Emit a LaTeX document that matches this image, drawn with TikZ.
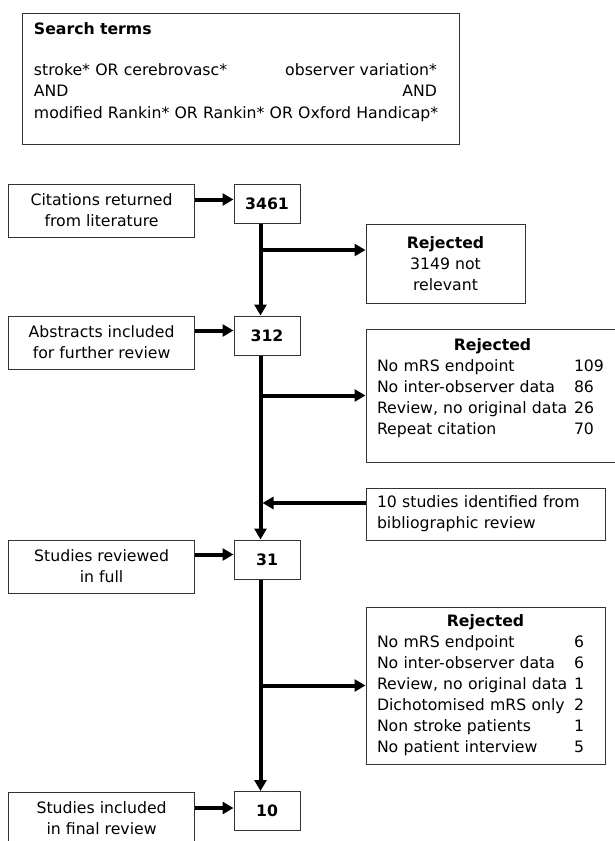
\documentclass[tikz,border=0pt]{standalone}
\usepackage{fontspec}
\setmainfont{DejaVu Sans}
\usetikzlibrary{arrows.meta}

\newcommand{\boxfont}{\fontsize{15.7}{21}\selectfont}
\newcommand{\rrow}[3][197pt]{\makebox[#1][l]{#2}#3}

\begin{document}
\begin{tikzpicture}[x=1pt,y=-1pt,font=\boxfont,
    box/.style={draw=black!80,line width=1pt,inner ysep=0pt,inner xsep=11pt,align=center},
    lbox/.style={box,minimum width=186pt,minimum height=53pt},
    nbox/.style={box,minimum width=66pt,minimum height=39pt,font=\boxfont\bfseries},
    rbox/.style={box,align=left},
    arr/.style={line width=4pt,-{Triangle[length=11pt,width=12pt]}}]

    \useasboundingbox (0,0) rectangle (614,841);

    % search terms at the top
    \node[rbox,inner xsep=12pt,text width=413pt,minimum height=131pt] (search) at (240.5,78.5)
      {\textbf{Search terms}\\[20pt]
       \makebox[403pt]{stroke* OR cerebrovasc*\hfill observer variation*}\\
       \makebox[403pt]{AND\hfill AND}\\[1pt]
       modified Rankin* OR Rankin* OR Oxford Handicap*\rule[-16pt]{0pt}{0pt}};

    % left column
    \node[lbox] (cit) at (101.6,210.5) {Citations returned\\from literature};
    \node[lbox] (abs) at (101.6,342.5) {Abstracts included\\for further review};
    \node[lbox] (full) at (101.6,566.5) {Studies reviewed\\in full};
    \node[lbox] (final) at (101.6,818.5) {Studies included\\in final review};

    % counts
    \foreach \nm/\y/\t in {n3461/203.5/3461, n312/335.5/312, n31/559.5/31, n10/811/10}
      \node[nbox] (\nm) at (267,\y) {\t};

    % right column (the second box runs off the page)
    \node[box,minimum width=159pt,minimum height=79pt] (rej1) at (445.5,263.5)
      {\textbf{Rejected}\\3149 not\\relevant};
    \node[rbox,text width=237pt,minimum width=259pt,minimum height=133pt] (rej2) at (495.5,395.5)
      {\makebox[231pt]{\textbf{Rejected}}\\
       \rrow{No mRS endpoint}{109}\\
       \rrow{No inter-observer data}{86}\\
       \rrow{Review, no original data}{26}\\
       \rrow{Repeat citation}{70}\rule[-17.5pt]{0pt}{0pt}};
    \node[rbox,text width=217pt,minimum width=239pt,minimum height=52pt] (bib) at (485.5,514)
      {10 studies identified from\\bibliographic review};
    \node[rbox,text width=217pt,minimum width=239pt,minimum height=157pt] (rej3) at (485.5,685.5)
      {\makebox[217pt]{\textbf{Rejected}}\\
       \rrow{No mRS endpoint}{6}\\
       \rrow{No inter-observer data}{6}\\
       \rrow{Review, no original data}{1}\\
       \rrow{Dichotomised mRS only}{2}\\
       \rrow{Non stroke patients}{1}\\
       \rrow{No patient interview}{5}};

    % main line
    \coordinate (sp) at (260.5,0);
    \draw[arr] (n3461.south -| sp) -- (n312.north -| sp);
    \draw[arr] (n312.south -| sp) -- (n31.north -| sp);
    \draw[arr] (n31.south -| sp) -- (n10.north -| sp);

    % inputs from the left
    \draw[arr] ([yshift=4pt]n3461.west -| cit.east) -- ([yshift=4pt]n3461.west);
    \draw[arr] ([yshift=5pt]n312.west -| abs.east) -- ([yshift=5pt]n312.west);
    \draw[arr] ([yshift=5pt]n31.west -| full.east) -- ([yshift=5pt]n31.west);
    \draw[arr] ([yshift=3pt]n10.west -| final.east) -- ([yshift=3pt]n10.west);

    % branches to the right
    \draw[arr] ([yshift=13.5pt]rej1.west -| sp) -- ([yshift=13.5pt]rej1.west);
    \draw[arr] (rej2.west -| sp) -- (rej2.west);
    \draw[arr] ([yshift=11pt]bib.west) -- ([yshift=11pt,xshift=2pt]bib.west -| sp);
    \draw[arr] (rej3.west -| sp) -- (rej3.west);

\end{tikzpicture}
\end{document}
